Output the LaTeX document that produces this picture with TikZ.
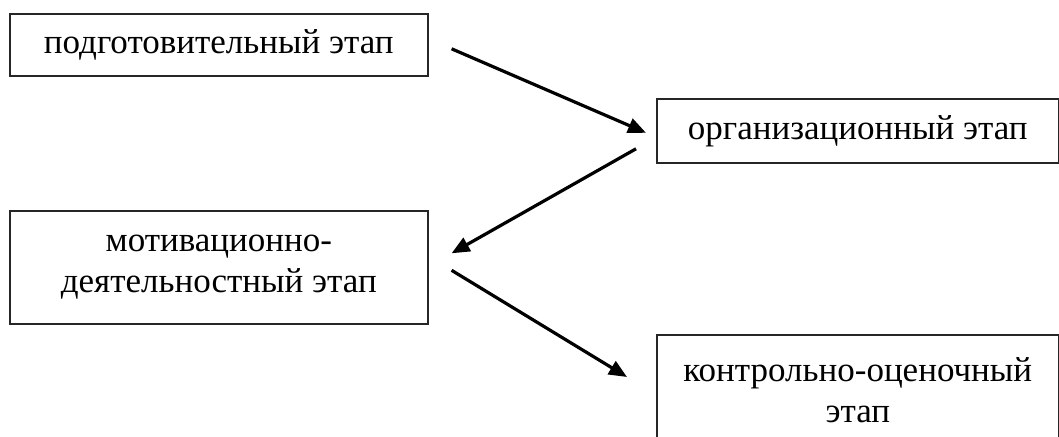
\documentclass[tikz,border=0pt]{standalone}
\usepackage{fontspec}
\setmainfont{Liberation Serif}
\usetikzlibrary{arrows.meta, positioning}

\begin{document}
\begin{tikzpicture}[
    x=1pt, y=-1pt,
    stage/.style={rectangle, draw=black!85, line width=1.6pt,
                  text centered, align=center, inner sep=0pt,
                  font=\fontsize{35}{41}\selectfont},
    arr/.style={-{Triangle[length=18pt, width=15pt]}, line width=3.2pt}
  ]
  \useasboundingbox (0,0) rectangle (1059,436);

  % left column
  \node[stage, anchor=north west, minimum width=418pt, minimum height=62pt]
    (podg) at (9,13) {подготовительный этап};
  \node[stage, anchor=north west, minimum width=418pt, minimum height=113pt]
    (motiv) at (9,210) {мотивационно-\\деятельностный этап};

  % right column, the last box runs off the bottom edge
  \node[stage, anchor=north west, minimum width=402pt, minimum height=64pt]
    (org) at (656,98) {организационный этап};
  \node[stage, anchor=north west, minimum width=402pt, minimum height=110pt]
    (kontr) at (656,334) {контрольно-оценочный\\этап};

  \draw[arr] ([xshift=23pt, yshift=-4pt]podg.east)
          -- ([xshift=-10pt, yshift=-2pt]org.west);
  \draw[arr] ([xshift=-20pt, yshift=-18pt]org.west)
          -- ([xshift=23pt, yshift=14pt]motiv.east);
  \draw[arr] ([xshift=23pt, yshift=-3pt]motiv.east)
          -- ([xshift=-29pt, yshift=-43pt]kontr.north west);
\end{tikzpicture}
\end{document}
